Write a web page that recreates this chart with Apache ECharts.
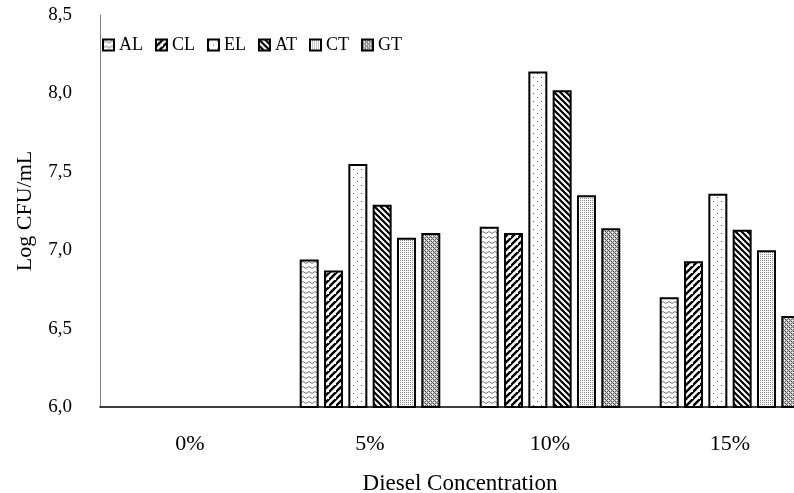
<!DOCTYPE html>
<html>
<head>
<meta charset="utf-8">
<script src="https://cdn.jsdelivr.net/npm/echarts@6/dist/echarts.min.js"></script>
<style>
html,body{margin:0;padding:0;background:#fff;}
#chart{width:794px;height:493px;}
</style>
</head>
<body>
<div id="chart"></div>
<script>
const categories = ['0%', '5%', '10%', '15%'];
const seriesNames = ['AL', 'CL', 'EL', 'AT', 'CT', 'GT'];
const AL = [null, 6.94, 7.15, 6.70];
const CL = [null, 6.87, 7.11, 6.93];
const EL = [null, 7.55, 8.14, 7.36];
const AT = [null, 7.29, 8.02, 7.13];
const CT = [null, 7.08, 7.35, 7.00];
const GT = [null, 7.11, 7.14, 6.58];
const yTickLabels = ['6,0', '6,5', '7,0', '7,5', '8,0', '8,5'];
const xAxisTitle = 'Diesel Concentration';
const yAxisTitle = 'Log CFU/mL';

function makePattern(w, h, draw) {
  const c = document.createElement('canvas');
  c.width = w; c.height = h;
  const g = c.getContext('2d');
  g.fillStyle = '#fff';
  g.fillRect(0, 0, w, h);
  draw(g, w, h);
  return { image: c, repeat: 'repeat' };
}
function px(g, x, y, col) { g.fillStyle = col; g.fillRect(x, y, 1, 1); }

const patterns = {
  AL: makePattern(6, 5, (g) => {
    g.strokeStyle = '#7a7a7a'; g.lineWidth = 1;
    g.beginPath(); g.moveTo(0, 3.5); g.lineTo(3, 1.5); g.lineTo(6, 3.5); g.stroke();
  }),
  CL: makePattern(7, 7, (g, w, h) => {
    g.strokeStyle = '#000'; g.lineWidth = 2.4;
    g.beginPath();
    g.moveTo(-1, h + 1); g.lineTo(w + 1, -1);
    g.moveTo(-1 - w, h + 1); g.lineTo(1, -1);
    g.moveTo(w - 1, 2 * h + 1); g.lineTo(2 * w + 1, h - 1);
    g.stroke();
  }),
  EL: makePattern(8, 8, (g) => {
    px(g, 1, 1, '#555'); px(g, 5, 5, '#555');
  }),
  AT: makePattern(6, 6, (g, w, h) => {
    g.strokeStyle = '#000'; g.lineWidth = 2.2;
    g.beginPath();
    g.moveTo(-1, -1); g.lineTo(w + 1, h + 1);
    g.moveTo(-1 - w, -1); g.lineTo(1, h + 1);
    g.moveTo(w - 1, -1); g.lineTo(2 * w + 1, h + 1);
    g.stroke();
  }),
  CT: makePattern(2, 2, (g) => {
    px(g, 0, 0, '#8a8a8a');
  }),
  GT: makePattern(4, 4, (g) => {
    for (let y = 0; y < 4; y++) {
      for (let x = 0; x < 4; x++) {
        px(g, x, y, ((x + y) % 2 === 0) ? '#6e6e6e' : '#c8c8c8');
      }
    }
    px(g, 0, 0, '#fff'); px(g, 2, 2, '#fff');
    px(g, 1, 3, '#444'); px(g, 3, 1, '#444');
  })
};

const dataMap = { AL, CL, EL, AT, CT, GT };
const fontFamily = "'Liberation Serif', 'Times New Roman', serif";

const chart = echarts.init(document.getElementById('chart'), null, { renderer: 'canvas' });
chart.setOption({
  animation: false,
  backgroundColor: '#fff',
  textStyle: { fontFamily: fontFamily, color: '#000' },
  grid: { left: 100, top: 15, width: 720, height: 392, containLabel: false, outerBoundsMode: 'none' },
  legend: {
    data: seriesNames,
    left: 97, top: 31,
    icon: 'rect',
    itemWidth: 11, itemHeight: 11,
    itemGap: 12,
    textStyle: { fontFamily: fontFamily, fontSize: 18, color: '#000' }
  },
  xAxis: {
    type: 'category',
    data: categories,
    axisLine: { lineStyle: { color: '#000', width: 1.5 } },
    axisTick: { show: false },
    axisLabel: { fontFamily: fontFamily, fontSize: 22, color: '#000', margin: 26 },
    name: xAxisTitle,
    nameLocation: 'middle',
    nameGap: 65,
    nameTextStyle: { fontFamily: fontFamily, fontSize: 23, color: '#000' }
  },
  yAxis: {
    type: 'value',
    min: 6, max: 8.5, interval: 0.5,
    splitLine: { show: false },
    axisLine: { show: true, lineStyle: { color: '#808080', width: 1 } },
    axisTick: { show: false },
    axisLabel: {
      fontFamily: fontFamily, fontSize: 19, color: '#000', margin: 28,
      formatter: (v) => yTickLabels[Math.round((v - 6) / 0.5)]
    },
    name: yAxisTitle,
    nameLocation: 'middle',
    nameGap: 64,
    nameTextStyle: { fontFamily: fontFamily, fontSize: 22, color: '#000' }
  },
  series: seriesNames.map((n) => ({
    name: n,
    type: 'bar',
    data: dataMap[n],
    barWidth: 19,
    barGap: '28%',
    itemStyle: { color: patterns[n], borderColor: '#000', borderWidth: 2 }
  }))
});
</script>
</body>
</html>
